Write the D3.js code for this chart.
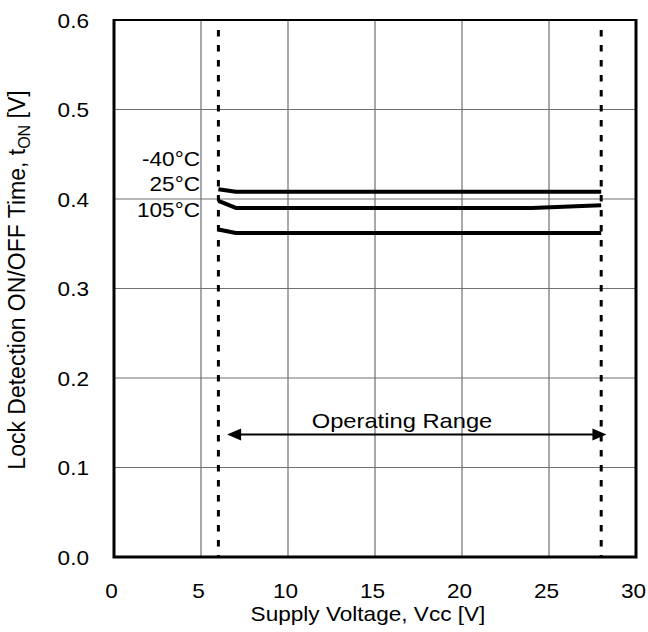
<!DOCTYPE html>
<html><head><meta charset="utf-8">
<script src="https://cdn.jsdelivr.net/npm/d3@7"></script>
<style>body{margin:0;background:#fff}svg{display:block}text{font-family:"Liberation Sans",Arial,sans-serif;fill:#000}</style>
</head><body>
<svg id="c" width="648" height="632"></svg>
<script>
const xTicks = [0,5,10,15,20,25,30];
const yTicks = [0.0,0.1,0.2,0.3,0.4,0.5,0.6];
const seriesNames = ["-40°C","25°C","105°C"];
const vcc_m40 = [6,7,28];
const t_m40 = [0.411,0.408,0.408];
const vcc_25 = [6,7,24,28];
const t_25 = [0.398,0.390,0.390,0.393];
const vcc_105 = [6,7,28];
const t_105 = [0.366,0.362,0.362];
const rangeBounds = [6,28];
const labelValues = [0.445,0.417,0.388];

const SX = 1.13, FS = 20;
const svg = d3.select("#c");
const L=114,R=636,T=20,B=557;
const x = d3.scaleLinear().domain([0,30]).range([L,R]);
const y = d3.scaleLinear().domain([0,0.6]).range([B,T]);

function htext(g, px, py, str, anchor, size){
  return g.append("text").attr("transform",`translate(${px},${py}) scale(${SX},1)`)
    .attr("text-anchor",anchor).attr("font-size",size||FS).text(str);
}

// grid
svg.append("g").selectAll("line").data(xTicks.slice(1,-1)).join("line")
  .attr("x1",d=>x(d)).attr("x2",d=>x(d)).attr("y1",T).attr("y2",B)
  .attr("stroke","#707070").attr("stroke-width",1.2);
svg.append("g").selectAll("line").data(yTicks.slice(1,-1)).join("line")
  .attr("y1",d=>y(d)).attr("y2",d=>y(d)).attr("x1",L).attr("x2",R)
  .attr("stroke","#707070").attr("stroke-width",1.2);

// axes (tick labels)
const xa = svg.append("g").attr("transform",`translate(0,${B})`)
  .call(d3.axisBottom(x).tickValues(xTicks).tickSize(0).tickFormat(d3.format("d")));
xa.select(".domain").remove();
xa.selectAll(".tick text").attr("y",null).attr("dy",null)
  .attr("transform",`translate(-3,41) scale(${SX},1)`)
  .attr("font-size",FS).style("font-family",'"Liberation Sans",Arial,sans-serif');
const ya = svg.append("g").attr("transform",`translate(${L},0)`)
  .call(d3.axisLeft(y).tickValues(yTicks).tickSize(0).tickFormat(d3.format(".1f")));
ya.select(".domain").remove();
ya.selectAll(".tick text").attr("x",null).attr("dy",null)
  .attr("transform",`translate(-25,7) scale(${SX},1)`)
  .attr("font-size",FS).style("font-family",'"Liberation Sans",Arial,sans-serif');

// operating range dashed lines
svg.append("g").selectAll("line").data(rangeBounds).join("line")
  .attr("x1",d=>x(d)).attr("x2",d=>x(d)).attr("y1",T+10).attr("y2",B)
  .attr("stroke","#000").attr("stroke-width",3).attr("stroke-dasharray","6.5,8.5");

// curves
const line = d3.line().x(d=>x(d[0])).y(d=>y(d[1]));
const series = [d3.zip(vcc_m40,t_m40), d3.zip(vcc_25,t_25), d3.zip(vcc_105,t_105)];
svg.append("g").selectAll("path").data(series).join("path")
  .attr("d",line).attr("fill","none").attr("stroke","#000").attr("stroke-width",4)
  .attr("stroke-linejoin","round");

// series labels
const lg = svg.append("g");
seriesNames.forEach((s,i)=>htext(lg, x(5)-1, y(labelValues[i])+7, s, "end"));

// arrow
const ay = y(0.137);
const ax1 = x(6.5), ax2 = x(28.3);
svg.append("line").attr("x1",ax1+8).attr("x2",ax2-8).attr("y1",ay).attr("y2",ay)
  .attr("stroke","#000").attr("stroke-width",2);
svg.append("path").attr("d",`M${ax1},${ay}L${ax1+14},${ay-6}L${ax1+14},${ay+6}Z`).attr("fill","#000");
svg.append("path").attr("d",`M${ax2},${ay}L${ax2-14},${ay-6}L${ax2-14},${ay+6}Z`).attr("fill","#000");
htext(svg, 402, ay-6, "Operating Range", "middle", 21);

// frame
svg.append("line").attr("x1",L).attr("x2",R).attr("y1",T).attr("y2",T).attr("stroke","#000").attr("stroke-width",2);
svg.append("path").attr("d",`M${L},${T-1}V${B}H${R}V${T-1}`).attr("fill","none").attr("stroke","#000").attr("stroke-width",3);

// axis titles
htext(svg, 368, 621, "Supply Voltage, Vcc [V]", "middle");
const yt = svg.append("text").attr("transform",`translate(25,280) rotate(-90)`)
  .attr("text-anchor","middle").attr("font-size",23);
yt.append("tspan").text("Lock Detection ON/OFF Time, t");
yt.append("tspan").attr("font-size",16).attr("dy",5).text("ON");
yt.append("tspan").attr("dy",-5).text(" [V]");
</script>
</body></html>
